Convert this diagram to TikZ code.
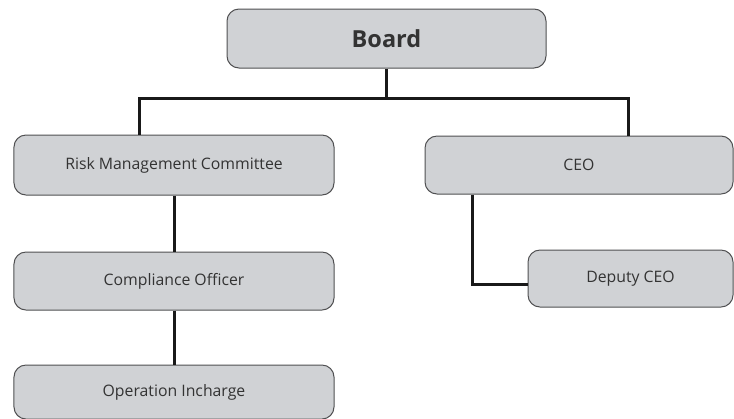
\documentclass[tikz,border=0pt]{standalone}
\usepackage{fontspec}
\setmainfont{Open Sans}
\usetikzlibrary{positioning, calc}
\definecolor{boxgray}{RGB}{208,210,213}
\definecolor{boxline}{RGB}{80,80,82}

\begin{document}
\begin{tikzpicture}[x=1bp, y=1bp, node distance=55bp,
    box/.style={rectangle, rounded corners=12bp, draw=boxline, line width=1bp, fill=boxgray, text=black!80, inner sep=0pt, font=\fontsize{15.8bp}{19bp}\selectfont},
    link/.style={line width=3bp, black!90}]
    \useasboundingbox (0,0) rectangle (734,-418);
    % Nodes
    \node (board) [box, minimum width=319bp, minimum height=59bp, font=\fontsize{23.5bp}{28bp}\selectfont\bfseries] at (386.5,-38.5) {Board};
    \node (rmc) [box, below=66bp of board, xshift=-212.5bp, minimum width=320bp, minimum height=60bp] {Risk Management Committee};
    \node (comp) [box, below=56bp of rmc, minimum width=320bp, minimum height=58bp] {Compliance Officer};
    \node (oper) [box, below=54bp of comp, minimum width=320bp, minimum height=54bp] {Operation Incharge};
    \node (ceo) [box, below=67bp of board, xshift=192.5bp, minimum width=308bp, minimum height=58bp] {CEO};
    \node (deputy) [box, below=55bp of ceo, xshift=51.5bp, minimum width=205bp, minimum height=57bp] {Deputy CEO};
    \coordinate (bus) at ($(board.south)+(0,-30bp)$);

    % Edges
    \draw[link] (board.south) -- (bus);
    \draw[link] ([xshift=-34bp]rmc.north) |- (bus) -| ([xshift=49bp]ceo.north);
    \draw[link] (rmc) -- (comp);
    \draw[link] (comp) -- (oper);
    \draw[link] ([xshift=-107bp]ceo.south) |- ([yshift=-6bp]deputy.west);
\end{tikzpicture}
\end{document}
